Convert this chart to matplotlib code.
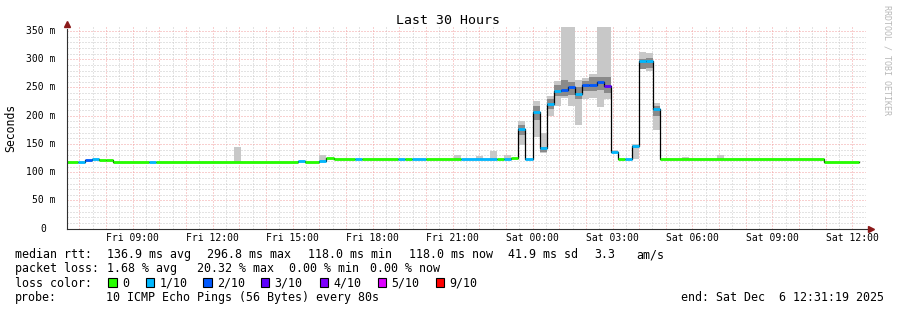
import matplotlib
matplotlib.use('Agg')
import matplotlib.pyplot as plt
import matplotlib.ticker as mtick
import matplotlib.transforms as mtrans
from matplotlib.patches import Rectangle
import numpy as np

plt.rcParams['font.family'] = 'DejaVu Sans Mono'
plt.rcParams['lines.scale_dashes'] = False

W, H = 897, 310

# time axis in hours since Fri 00:00, window ends Sat 12:31:19
t_start = 6 + 31/60 + 19/3600
t_end = t_start + 30
bin0 = 6.4          # first 16 min bin starts 06:24
bin_w = 16/60

# median rtt (ms), runs of 16-min bins, with loss count (of 10)
run_len = [2, 1, 1, 1, 1, 1, 5, 1, 20, 1, 2, 1, 1, 3, 1, 5, 1, 1, 2, 5, 5, 1, 1, 1,
           1, 1, 1, 1, 1, 1, 1, 1, 1, 1, 1, 1, 1, 1, 1, 1, 1, 1, 1, 1,
           23, 5]
run_med = [118, 118, 121, 124, 122, 121, 118, 118, 118, 120, 118, 120, 125, 123, 123, 123, 123, 123, 123, 123, 123, 123, 123, 126,
           177, 123, 206, 142, 221, 243, 245, 250, 238, 254, 255, 260, 252, 136, 123, 123, 147, 296, 296, 211,
           123, 118]
run_loss = [0, 1, 2, 1, 0, 0, 0, 1, 0, 1, 0, 1, 0, 0, 1, 0, 1, 0, 1, 0, 1, 0, 1, 0,
            1, 1, 1, 1, 1, 1, 2, 2, 1, 2, 2, 2, 3, 1, 0, 1, 1, 1, 1, 1,
            0, 0]

# smoke (spread of the 10 pings) for bins that show it
smoke_bin = [24, 36, 55, 58, 60, 62, 64, 66, 67, 68, 69, 70, 71, 72, 73, 74, 75, 76, 77, 80, 81, 82, 83, 87, 92]
smoke_lo = [118, 118, 123, 123, 123, 123, 148, 163, 134, 199, 217, 232, 217, 184, 230, 232, 215, 229, 134, 124, 282, 279, 175, 123, 123]
smoke_hi = [145, 130, 130, 128, 137, 130, 191, 226, 170, 234, 261, 380, 380, 263, 266, 273, 380, 380, 139, 150, 312, 311, 223, 127, 130]
core_lo = [np.nan]*6 + [166, 193, 136, 211, 234, 234, 237, 229, 243, 243, 246, 241, np.nan, 142, 282, 285, 199, np.nan, np.nan]
core_hi = [np.nan]*6 + [184, 217, 145, 229, 255, 264, 259, 250, 261, 268, 268, 268, np.nan, 146, 300, 303, 217, np.nan, np.nan]

loss_colors = {0: '#26ff00', 1: '#00b8ff', 2: '#0059ff', 3: '#5e00ff',
               4: '#7e00ff', 5: '#dd00ff', 9: '#ff0000'}
legend_loss = [0, 1, 2, 3, 4, 5, 9]
legend_text = ['0', '1/10', '2/10', '3/10', '4/10', '5/10', '9/10']

fig = plt.figure(figsize=(W/100, H/100), dpi=100, facecolor='white')
ax = fig.add_axes([66.7/W, (H-228.7)/H, 799.6/W, 201.7/H])
ax.set_xlim(t_start, t_end)
ax.set_ylim(0, 357)

# smoke
sb = bin0 + np.array(smoke_bin)*bin_w
lo, hi = np.array(smoke_lo, float), np.array(smoke_hi, float)
ax.bar(sb, hi-lo, bottom=lo, width=bin_w, align='edge', color='#c8c8c8', lw=0, zorder=2)
clo, chi = np.array(core_lo), np.array(core_hi)
ok = ~np.isnan(clo)
ax.bar(sb[ok], chi[ok]-clo[ok], bottom=clo[ok], width=bin_w, align='edge', color='#8a8a8a', lw=0, zorder=2)

# median: black step line plus loss coloured segments
med = np.repeat(run_med, run_len)
edges = bin0 + np.arange(len(med)+1)*bin_w
ax.step(edges, np.append(med, med[-1]), where='post', color='black', lw=0.9, zorder=3)
starts = bin0 + np.concatenate([[0], np.cumsum(run_len)[:-1]])*bin_w
ends = bin0 + np.cumsum(run_len)*bin_w
ax.hlines(run_med, starts, ends, colors=[loss_colors[l] for l in run_loss], lw=2.0, zorder=4)

# grid
ax.xaxis.set_major_locator(mtick.MultipleLocator(1))
ax.xaxis.set_minor_locator(mtick.MultipleLocator(0.5))
ax.yaxis.set_major_locator(mtick.MultipleLocator(50))
ax.yaxis.set_minor_locator(mtick.MultipleLocator(10))
dots = (0, (0.72, 1.44))
ax.grid(which='major', color='#f2a0a0', lw=0.72, linestyle=dots)
ax.grid(which='minor', color='#c8c8c8', lw=0.72, linestyle=dots)
ax.set_axisbelow(True)

def xfmt(h, pos):
    h = int(round(h))
    if h % 3:
        return ''
    return '%s %02d:00' % ('Fri' if h < 24 else 'Sat', h % 24)

ax.xaxis.set_major_formatter(mtick.FuncFormatter(xfmt))
ax.tick_params(axis='x', which='both', length=0, pad=3.3, labelsize=7)
ax.tick_params(axis='y', which='both', length=0, labelleft=False)

ytr = ax.get_yaxis_transform()
for v in range(0, 351, 50):
    off = -14.4 if v == 0 else -8.4
    t = mtrans.offset_copy(ytr, fig=fig, x=off, y=0, units='points')
    ax.text(0, v, '0' if v == 0 else '%d m' % v, transform=t, ha='right', va='center', fontsize=7)

for s in ax.spines.values():
    s.set_visible(False)
ax.plot([0, 0], [0, 0.99], transform=ax.transAxes, color='#303030', lw=0.8, clip_on=False, zorder=5)
ax.plot([0, 1.003], [0, 0], transform=ax.transAxes, color='#303030', lw=0.8, clip_on=False, zorder=5)
ax.plot([0], [1.014], marker='^', ms=4.5, color='#8b1a1a', transform=ax.transAxes, clip_on=False, zorder=6)
ax.plot([1.0055], [0], marker='>', ms=4.5, color='#8b1a1a', transform=ax.transAxes, clip_on=False, zorder=6)

def ftext(x, y, s, **kw):
    kw.setdefault('fontsize', 8.4)
    kw.setdefault('va', 'baseline')
    fig.text(x/W, 1 - y/H, s, **kw)

ftext(448, 24, 'Last 30 Hours', fontsize=9.5, ha='center')
ftext(11, 128, 'Seconds', fontsize=8.3, rotation=90, ha='center', va='center')
ftext(887, 60, 'RRDTOOL / TOBI OETIKER', fontsize=6, rotation=270, ha='center', va='center', color='#b8b8b8')

row1 = [(16, 'median rtt:'), (108, '136.9 ms avg'), (208, '296.8 ms max'), (309, '118.0 ms min'),
        (410, '118.0 ms now'), (509, '41.9 ms sd'), (595, '3.3'), (637, 'am/s')]
row2 = [(16, 'packet loss:'), (108, '1.68 % avg'), (198, '20.32 % max'), (290, '0.00 % min'), (371, '0.00 % now')]
for x, s in row1:
    ftext(x - 1, 258.3, s)
for x, s in row2:
    ftext(x - 1, 272.3, s)

ftext(15, 286.7, 'loss color:')
box_x = [108.3, 145.7, 203.3, 261, 320, 378, 436]
for bx, l, s in zip(box_x, legend_loss, legend_text):
    fig.patches.append(Rectangle((bx/W, 1 - 287.3/H), 8.3/W, 9/H, transform=fig.transFigure,
                                 facecolor=loss_colors[l], edgecolor='black', lw=0.8))
    ftext(bx + 13.7, 286.7, s)

ftext(15, 300.7, 'probe:')
ftext(106, 300.7, '10 ICMP Echo Pings (56 Bytes) every 80s')
ftext(884, 300.7, 'end: Sat Dec  6 12:31:19 2025', ha='right')

fig.savefig('out.png', dpi=100, facecolor='white')
